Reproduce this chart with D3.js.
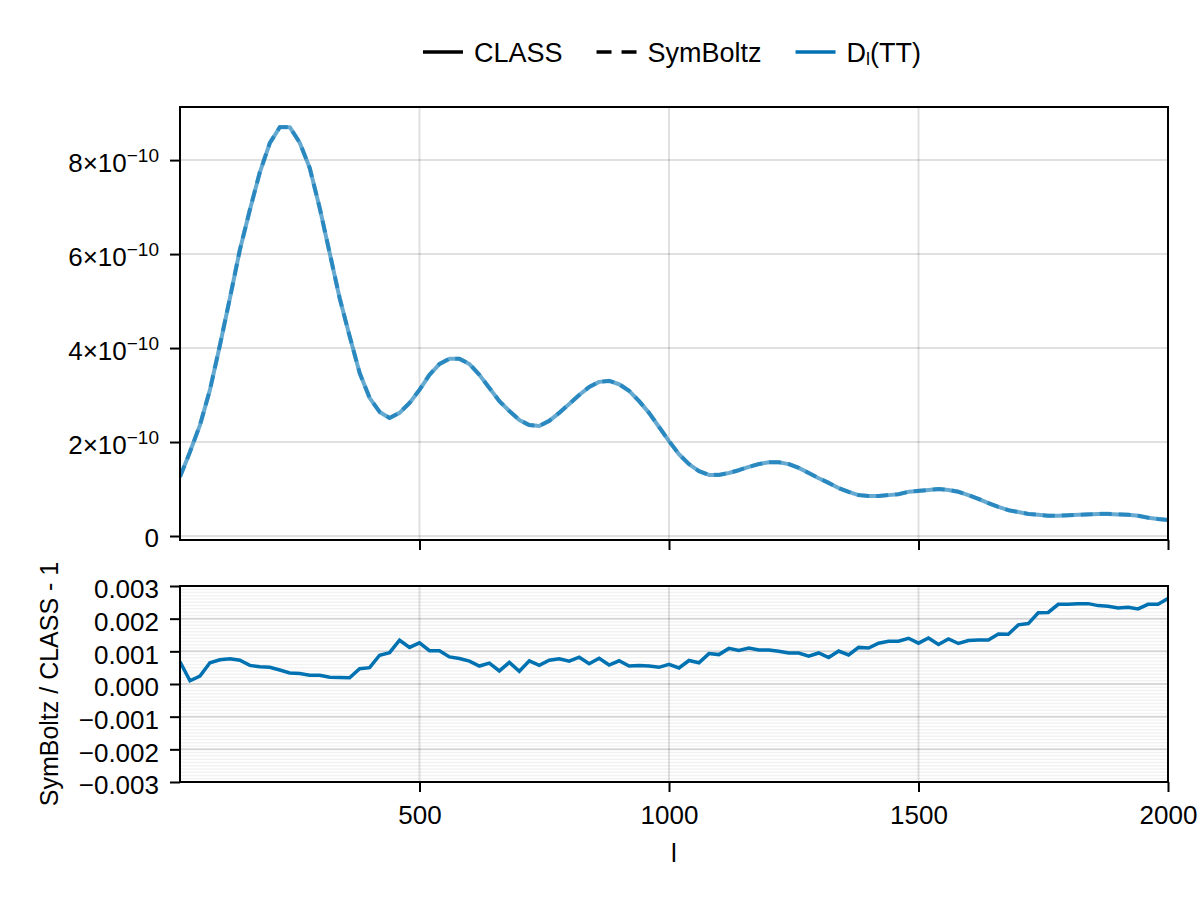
<!DOCTYPE html>
<html>
<head>
<meta charset="utf-8">
<title>CLASS vs SymBoltz TT spectrum</title>
<script src="https://d3js.org/d3.v7.min.js"></script>
<style>
  body { margin: 0; background: #fff; }
  svg text { font-family: "Liberation Sans", Arial, sans-serif; fill: #000; }
</style>
</head>
<body>
<div id="chart"></div>
<script>
// multipoles
const ells = [
  20, 40, 60, 80, 100, 120, 140, 160, 180, 200,
  220, 240, 260, 280, 300, 320, 340, 360, 380, 400,
  420, 440, 460, 480, 500, 520, 540, 560, 580, 600,
  620, 640, 660, 680, 700, 720, 740, 760, 780, 800,
  820, 840, 860, 880, 900, 920, 940, 960, 980, 1000,
  1020, 1040, 1060, 1080, 1100, 1120, 1140, 1160, 1180, 1200,
  1220, 1240, 1260, 1280, 1300, 1320, 1340, 1360, 1380, 1400,
  1420, 1440, 1460, 1480, 1500, 1520, 1540, 1560, 1580, 1600,
  1620, 1640, 1660, 1680, 1700, 1720, 1740, 1760, 1780, 1800,
  1820, 1840, 1860, 1880, 1900, 1920, 1940, 1960, 1980, 2000
];

// D_l(TT) from CLASS, in units of 1e-10
const DL_UNIT = 1e-10;
const dlClass = [
  1.26, 1.79, 2.36, 3.11, 4.06, 5.06, 6.09, 6.94, 7.74, 8.36,
  8.70, 8.70, 8.37, 7.83, 6.98, 6.02, 5.06, 4.25, 3.47, 2.94,
  2.64, 2.51, 2.62, 2.83, 3.11, 3.43, 3.66, 3.77, 3.77, 3.66,
  3.43, 3.15, 2.87, 2.66, 2.47, 2.36, 2.34, 2.45, 2.62, 2.81,
  3.00, 3.17, 3.28, 3.30, 3.23, 3.09, 2.87, 2.62, 2.32, 2.02,
  1.74, 1.53, 1.38, 1.30, 1.30, 1.34, 1.40, 1.47, 1.53, 1.57,
  1.57, 1.53, 1.45, 1.34, 1.23, 1.13, 1.02, 0.94, 0.87, 0.85,
  0.85, 0.87, 0.89, 0.94, 0.96, 0.98, 1.00, 0.98, 0.94, 0.87,
  0.79, 0.70, 0.62, 0.55, 0.51, 0.47, 0.45, 0.43, 0.43, 0.44,
  0.45, 0.46, 0.47, 0.47, 0.46, 0.45, 0.43, 0.39, 0.36, 0.34
];

// SymBoltz / CLASS - 1, in units of 1e-3
const REL_UNIT = 1e-3;
const relDiff = [
  0.68, 0.10, 0.24, 0.65, 0.74, 0.77, 0.73, 0.57, 0.53, 0.51,
  0.43, 0.34, 0.32, 0.27, 0.27, 0.21, 0.20, 0.19, 0.47, 0.50,
  0.88, 0.96, 1.34, 1.12, 1.26, 1.02, 1.02, 0.83, 0.78, 0.70,
  0.55, 0.64, 0.40, 0.66, 0.39, 0.71, 0.57, 0.73, 0.77, 0.70,
  0.82, 0.62, 0.79, 0.58, 0.71, 0.55, 0.57, 0.55, 0.51, 0.60,
  0.49, 0.72, 0.65, 0.93, 0.90, 1.09, 1.03, 1.10, 1.04, 1.04,
  1.00, 0.95, 0.95, 0.85, 0.95, 0.81, 1.01, 0.89, 1.12, 1.10,
  1.25, 1.31, 1.31, 1.40, 1.25, 1.41, 1.21, 1.38, 1.24, 1.33,
  1.35, 1.35, 1.53, 1.52, 1.81, 1.85, 2.18, 2.19, 2.44, 2.44,
  2.46, 2.46, 2.40, 2.38, 2.33, 2.35, 2.30, 2.44, 2.44, 2.62
];

const xTicks = [500, 1000, 1500, 2000];
const topTicks = [0, 2, 4, 6, 8];          // multiples of 1e-10
const botTicks = [-0.003, -0.002, -0.001, 0, 0.001, 0.002, 0.003];

const blue = "#0072B2";
const width = 1200, height = 900;
const left = 180, right = 1168;
const top1 = 107, bot1 = 540;
const top2 = 586, bot2 = 782;

const classRows = ells.map((l, i) => ({ l: l, v: dlClass[i] * DL_UNIT }));
const symRows = ells.map((l, i) => ({ l: l, v: dlClass[i] * DL_UNIT * (1 + relDiff[i] * REL_UNIT) }));
const relRows = ells.map((l, i) => ({ l: l, v: relDiff[i] * REL_UNIT }));

const svg = d3.select("#chart").append("svg")
    .attr("width", width)
    .attr("height", height);

const x = d3.scaleLinear().domain([20, 2000]).range([left, right]);
const yTop = d3.scaleLinear().domain([-0.085e-10, 9.13e-10]).range([bot1, top1]);
const yBot = d3.scaleLinear().domain([-0.003, 0.003]).range([bot2, top2]);

const defs = svg.append("defs");
defs.append("clipPath").attr("id", "clipTop")
    .append("rect").attr("x", left).attr("y", top1).attr("width", right - left).attr("height", bot1 - top1);
defs.append("clipPath").attr("id", "clipBot")
    .append("rect").attr("x", left).attr("y", top2).attr("width", right - left).attr("height", bot2 - top2);

// ---- top panel ----
const g1 = svg.append("g");

g1.selectAll(".hgrid").data(topTicks).enter().append("line")
    .attr("x1", left).attr("x2", right)
    .attr("y1", d => yTop(d * DL_UNIT)).attr("y2", d => yTop(d * DL_UNIT))
    .attr("stroke", "rgba(0,0,0,0.12)").attr("stroke-width", 2);
g1.selectAll(".vgrid").data(xTicks).enter().append("line")
    .attr("x1", d => x(d)).attr("x2", d => x(d))
    .attr("y1", top1).attr("y2", bot1)
    .attr("stroke", "rgba(0,0,0,0.12)").attr("stroke-width", 2);

const line1 = d3.line().x(d => x(d.l)).y(d => yTop(d.v));

g1.append("path").datum(classRows)
    .attr("clip-path", "url(#clipTop)")
    .attr("d", line1)
    .attr("fill", "none").attr("stroke", blue).attr("stroke-opacity", 0.6)
    .attr("stroke-width", 4).attr("stroke-linejoin", "round");
g1.append("path").datum(symRows)
    .attr("clip-path", "url(#clipTop)")
    .attr("d", line1)
    .attr("fill", "none").attr("stroke", blue).attr("stroke-opacity", 0.6)
    .attr("stroke-width", 4).attr("stroke-dasharray", "12,7");

g1.append("rect")
    .attr("x", left).attr("y", top1).attr("width", right - left).attr("height", bot1 - top1)
    .attr("fill", "none").attr("stroke", "#000").attr("stroke-width", 2);

g1.append("g").attr("transform", `translate(0,${bot1})`)
    .call(d3.axisBottom(x).tickValues(xTicks).tickSize(10).tickFormat(""))
    .call(a => a.select(".domain").remove())
    .call(a => a.selectAll("line").attr("stroke-width", 2));

g1.append("g").attr("transform", `translate(${left},0)`)
    .call(d3.axisLeft(yTop).tickValues(topTicks.map(d => d * DL_UNIT)).tickSize(10).tickFormat(""))
    .call(a => a.select(".domain").remove())
    .call(a => a.selectAll("line").attr("stroke-width", 2));

const topLabels = g1.selectAll(".ylab").data(topTicks).enter().append("text")
    .attr("x", 159)
    .attr("y", d => yTop(d * DL_UNIT) + (d === 0 ? 11 : 12))
    .attr("text-anchor", "end")
    .style("font-size", "26px");
topLabels.filter(d => d === 0).text("0");
topLabels.filter(d => d !== 0).each(function (d) {
  const t = d3.select(this);
  t.append("tspan").text(d + "×10");
  t.append("tspan").attr("dy", -10).style("font-size", "19px").text("−10");
});

// ---- bottom panel ----
const g2 = svg.append("g");

const minor = d3.range(-30, 31).map(k => k * 0.0001);
g2.selectAll(".mgrid").data(minor).enter().append("line")
    .attr("x1", left).attr("x2", right)
    .attr("y1", d => yBot(d)).attr("y2", d => yBot(d))
    .attr("stroke", "rgba(0,0,0,0.05)").attr("stroke-width", 1.5);
g2.selectAll(".hgrid").data(botTicks).enter().append("line")
    .attr("x1", left).attr("x2", right)
    .attr("y1", d => yBot(d)).attr("y2", d => yBot(d))
    .attr("stroke", "rgba(0,0,0,0.12)").attr("stroke-width", 2);
g2.selectAll(".vgrid").data(xTicks).enter().append("line")
    .attr("x1", d => x(d)).attr("x2", d => x(d))
    .attr("y1", top2).attr("y2", bot2)
    .attr("stroke", "rgba(0,0,0,0.12)").attr("stroke-width", 2);

g2.append("path").datum(relRows)
    .attr("clip-path", "url(#clipBot)")
    .attr("d", d3.line().x(d => x(d.l)).y(d => yBot(d.v)))
    .attr("fill", "none").attr("stroke", blue)
    .attr("stroke-width", 3.5).attr("stroke-linejoin", "miter");

g2.append("rect")
    .attr("x", left).attr("y", top2).attr("width", right - left).attr("height", bot2 - top2)
    .attr("fill", "none").attr("stroke", "#000").attr("stroke-width", 2);

g2.append("g").attr("transform", `translate(0,${bot2})`)
    .call(d3.axisBottom(x).tickValues(xTicks).tickSize(10).tickPadding(14).tickFormat(d3.format("d")))
    .call(a => a.select(".domain").remove())
    .call(a => a.selectAll("line").attr("stroke-width", 2))
    .call(a => a.selectAll("text").style("font-size", "26px").attr("font-family", null));

g2.append("g").attr("transform", `translate(${left},0)`)
    .call(d3.axisLeft(yBot).tickValues(botTicks).tickSize(10).tickPadding(11).tickFormat(d3.format(".3f")))
    .call(a => a.select(".domain").remove())
    .call(a => a.selectAll("line").attr("stroke-width", 2))
    .call(a => a.selectAll("text").style("font-size", "26px").attr("dy", "0.45em").attr("font-family", null));

svg.append("text")
    .attr("x", (left + right) / 2).attr("y", 862)
    .attr("text-anchor", "middle")
    .style("font-size", "26px")
    .text("l");

svg.append("text")
    .attr("transform", `translate(58,${(top2 + bot2) / 2}) rotate(-90)`)
    .attr("text-anchor", "middle")
    .style("font-size", "25px")
    .text("SymBoltz / CLASS - 1");

// ---- legend ----
const legend = svg.append("g");
const items = [
  { label: "CLASS", color: "#000", dash: null },
  { label: "SymBoltz", color: "#000", dash: "15,10" },
  { label: "D", sub: "l", rest: "(TT)", color: blue, dash: null }
];
let cx = 0;
items.forEach(it => {
  const g = legend.append("g").attr("transform", `translate(${cx},0)`);
  g.append("line")
      .attr("x1", 0).attr("x2", 40).attr("y1", 0).attr("y2", 0)
      .attr("stroke", it.color).attr("stroke-width", 3.5)
      .attr("stroke-dasharray", it.dash);
  const t = g.append("text").attr("x", 51).attr("y", 10).style("font-size", "27px");
  t.append("tspan").text(it.label);
  if (it.sub) {
    t.append("tspan").attr("dy", 3).style("font-size", "18px").text(it.sub);
    t.append("tspan").attr("dy", -3).text(it.rest);
  }
  cx += 51 + t.node().getComputedTextLength() + 34;
});
const legendW = cx - 34;
legend.attr("transform", `translate(${672 - legendW / 2},52)`);
</script>
</body>
</html>
